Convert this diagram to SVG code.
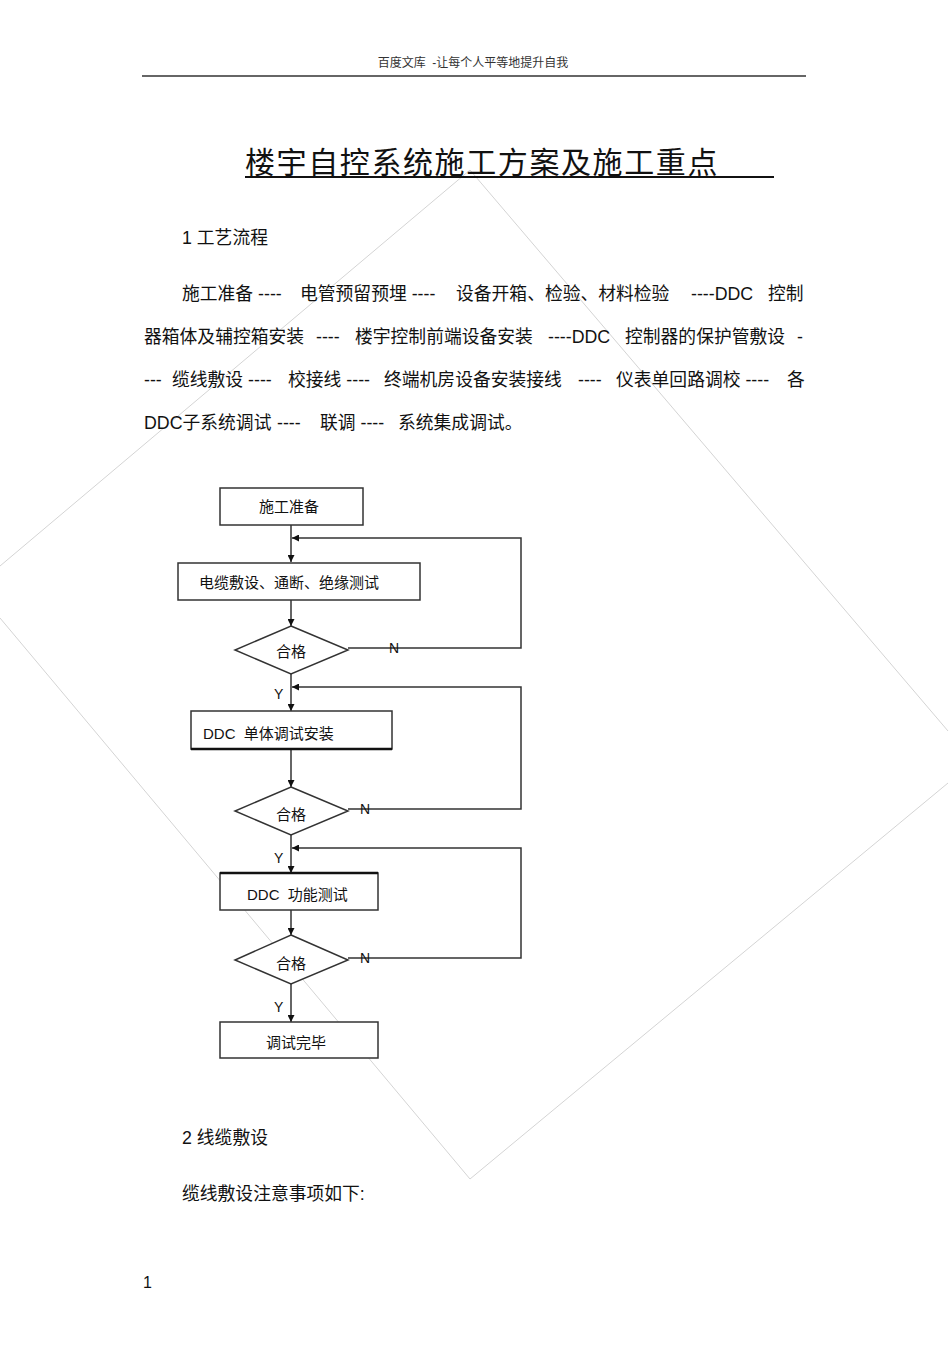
<svg xmlns="http://www.w3.org/2000/svg" width="950" height="1345" viewBox="0 0 950 1345">
<style>
text{font-family:"Liberation Sans","Noto Sans CJK SC",sans-serif;fill:#111}
.hdr{font-size:12px;fill:#333;white-space:pre}
.title{font-size:30px;letter-spacing:1.6px}
.body{font-size:17.8px}
.node{font-size:15px;white-space:pre}
.lbl{font-size:14px}
.shape{fill:#fff;stroke:#333;stroke-width:1.5}
.edge{fill:none;stroke:#333;stroke-width:1.5}
.wm{fill:none;stroke:#d4d4d4;stroke-width:1}
</style>
<defs>
<marker id="ah" viewBox="0 0 10 10" refX="10" refY="5" markerWidth="7" markerHeight="7" markerUnits="userSpaceOnUse" orient="auto">
<path d="M0,0 L10,5 L0,10 z" fill="#111"/>
</marker>
</defs>
<rect width="950" height="1345" fill="#fff"/>
<g id="watermark">
<polyline class="wm" points="0,566 470,170 948,731"/>
<polyline class="wm" points="0,618 470,1179 948,783"/>
</g>
<g id="header">
<text class="hdr" x="473" y="67" text-anchor="middle">百度文库  -让每个人平等地提升自我</text>
<line x1="142" y1="76" x2="806" y2="76" stroke="#333" stroke-width="1.5"/>
</g>
<g id="title">
<text class="title" x="245" y="173">楼宇自控系统施工方案及施工重点</text>
<line x1="245" y1="177" x2="774" y2="177" stroke="#111" stroke-width="2"/>
</g>
<g id="section1">
<text class="body" x="182" y="244">1 工艺流程</text>
<text class="body" x="182" y="300">施工准备 ----</text>
<text class="body" x="300" y="300">电管预留预埋 ----</text>
<text class="body" x="456" y="300">设备开箱、检验、材料检验</text>
<text class="body" x="691" y="300">----DDC</text>
<text class="body" x="768" y="300">控制</text>
<text class="body" x="144" y="343">器箱体及辅控箱安装</text>
<text class="body" x="316" y="343">----</text>
<text class="body" x="355" y="343">楼宇控制前端设备安装</text>
<text class="body" x="548" y="343">----DDC</text>
<text class="body" x="625" y="343">控制器的保护管敷设</text>
<text class="body" x="797" y="343">-</text>
<text class="body" x="144" y="386">---</text>
<text class="body" x="172" y="386">缆线敷设 ----</text>
<text class="body" x="288" y="386">校接线 ----</text>
<text class="body" x="384" y="386">终端机房设备安装接线</text>
<text class="body" x="578" y="386">----</text>
<text class="body" x="616" y="386">仪表单回路调校 ----</text>
<text class="body" x="787" y="386">各</text>
<text class="body" x="144" y="429">DDC子系统调试</text>
<text class="body" x="277" y="429">----</text>
<text class="body" x="320" y="429">联调 ----</text>
<text class="body" x="398" y="429">系统集成调试。</text>
</g>
<g id="connectors">
<line class="edge" x1="291" y1="525" x2="291" y2="562" marker-end="url(#ah)"/>
<polyline class="edge" points="348,648 521,648 521,538 292,538" marker-end="url(#ah)"/>
<line class="edge" x1="291" y1="600" x2="291" y2="626" marker-end="url(#ah)"/>
<line class="edge" x1="291" y1="674" x2="291" y2="711" marker-end="url(#ah)"/>
<polyline class="edge" points="348,809 521,809 521,687 292,687" marker-end="url(#ah)"/>
<line class="edge" x1="291" y1="749" x2="291" y2="787" marker-end="url(#ah)"/>
<line class="edge" x1="291" y1="835" x2="291" y2="873" marker-end="url(#ah)"/>
<polyline class="edge" points="348,958 521,958 521,848 292,848" marker-end="url(#ah)"/>
<line class="edge" x1="291" y1="910" x2="291" y2="935" marker-end="url(#ah)"/>
<line class="edge" x1="291" y1="984" x2="291" y2="1022" marker-end="url(#ah)"/>
<text class="lbl" x="389" y="653">N</text>
<text class="lbl" x="360" y="814">N</text>
<text class="lbl" x="360" y="963">N</text>
<text class="lbl" x="274" y="699">Y</text>
<text class="lbl" x="274" y="863">Y</text>
<text class="lbl" x="274" y="1012">Y</text>
</g>
<g id="n1">
<rect class="shape" x="220" y="488" width="143" height="37"/>
<text class="node" x="289" y="512" text-anchor="middle">施工准备</text>
</g>
<g id="n2">
<rect class="shape" x="178" y="563" width="242" height="37"/>
<text class="node" x="199" y="588">电缆敷设、通断、绝缘测试</text>
</g>
<g id="d1">
<polygon class="shape" points="291,626 348,650 291,674 235,650"/>
<text class="node" x="291" y="657" text-anchor="middle">合格</text>
</g>
<g id="n3">
<rect class="shape" x="191" y="711" width="201" height="38"/>
<line x1="191" y1="749" x2="392" y2="749" stroke="#111" stroke-width="2.5"/>
<text class="node" x="203" y="739">DDC  单体调试安装</text>
</g>
<g id="d2">
<polygon class="shape" points="291,787 348,811 291,835 235,811"/>
<text class="node" x="291" y="820" text-anchor="middle">合格</text>
</g>
<g id="n4">
<rect class="shape" x="220" y="873" width="158" height="37"/>
<line x1="220" y1="873" x2="378" y2="873" stroke="#111" stroke-width="2.5"/>
<text class="node" x="247" y="900">DDC  功能测试</text>
</g>
<g id="d3">
<polygon class="shape" points="291,935 348,960 291,984 235,960"/>
<text class="node" x="291" y="969" text-anchor="middle">合格</text>
</g>
<g id="n5">
<rect class="shape" x="220" y="1022" width="158" height="36"/>
<text class="node" x="296" y="1048" text-anchor="middle">调试完毕</text>
</g>
<g id="section2">
<text class="body" x="182" y="1144">2 线缆敷设</text>
<text class="body" x="182" y="1200">缆线敷设注意事项如下:</text>
<text class="body" x="143" y="1288" style="font-size:16px">1</text>
</g>
</svg>
